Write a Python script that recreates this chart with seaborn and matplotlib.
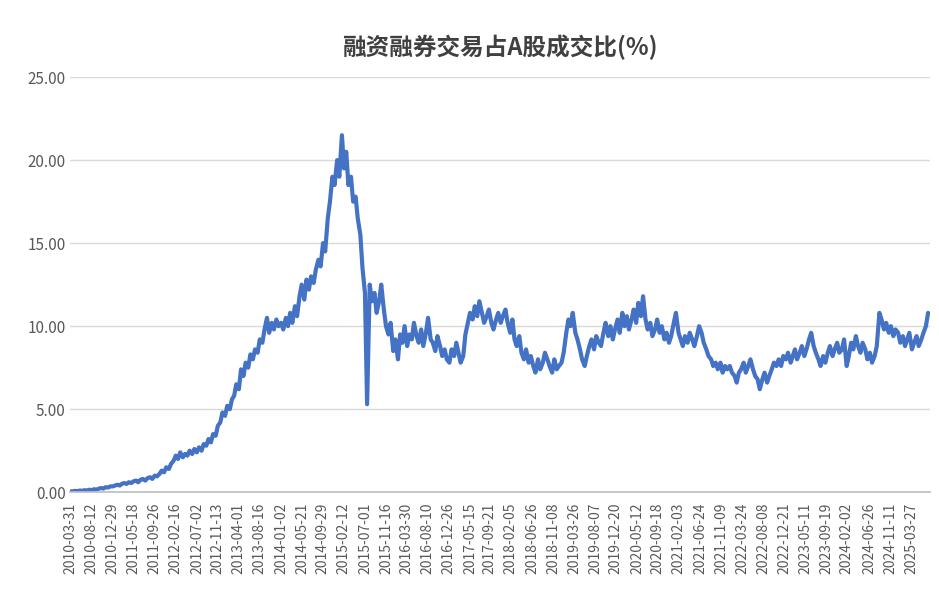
import numpy as np
import pandas as pd
import seaborn as sns
import matplotlib.pyplot as plt
import matplotlib.dates as mdates

# semimonthly readings of the ratio (%)
y2010 = [0.05,0.05,0.08,0.06,0.1,0.08,0.12,0.1,0.15,0.12,0.18,0.15,0.2,0.25,0.22,0.3,0.28,0.35]
y2011 = [0.35,0.4,0.45,0.4,0.5,0.55,0.5,0.6,0.55,0.65,0.7,0.6,0.75,0.8,0.7,0.85,0.9,0.8,1.0,0.95,1.1,1.3,1.2,1.5]
y2012 = [1.4,1.7,1.9,2.2,2.0,2.4,2.1,2.3,2.2,2.5,2.3,2.6,2.4,2.7,2.5,2.9,2.8,3.2,3.0,3.5,3.4,4.0,4.2,4.8]
y2013 = [4.6,5.2,5.0,5.6,5.8,6.5,6.2,7.4,7.0,7.8,7.5,8.3,8.0,8.6,8.4,9.2,9.0,9.8,10.5,9.6,10.2,9.8,10.4,10.0]
y2014 = [10.2,9.8,10.5,10.0,10.8,10.2,11.2,10.6,11.8,12.5,11.6,12.8,12.2,13.0,12.6,13.4,14.0,13.6,15.0,14.5,16.5,17.5,19.0,18.5]
y2015 = [20.0,19.0,21.5,19.5,20.5,18.5,19.0,17.5,17.8,16.5,15.5,13.5,12.0,5.3,12.5,11.5,12.0,10.8,11.5,12.5,11.0,10.0,9.5,10.2]
y2016 = [8.5,9.2,8.0,9.5,9.0,10.0,8.8,9.5,9.2,10.2,9.4,9.0,9.8,8.8,9.6,10.5,9.2,9.0,8.5,9.4,8.8,8.2,8.6,8.0]
y2017 = [7.8,8.6,8.2,9.0,8.4,7.8,8.2,9.5,10.2,10.8,10.4,11.2,10.6,11.5,10.8,10.2,10.6,11.0,10.2,9.8,10.4,10.8,10.2,10.6]
y2018 = [11.0,10.2,9.6,10.4,9.2,8.8,9.4,8.4,8.0,8.6,7.8,8.2,7.6,7.2,8.0,7.4,7.8,8.4,8.0,7.6,7.2,8.0,7.4,7.6]
y2019 = [7.8,8.4,9.6,10.4,10.0,10.8,9.6,9.2,8.6,8.0,7.6,8.2,8.8,9.2,8.6,9.4,9.0,8.8,9.6,10.2,9.4,10.0,9.2,9.8]
y2020 = [10.4,9.6,10.8,10.0,10.6,9.8,10.4,11.0,10.2,11.4,10.6,11.8,10.4,9.8,10.2,9.4,9.8,10.4,9.6,10.0,9.2,9.6,9.0,9.4]
y2021 = [10.2,10.8,9.6,9.2,8.8,9.4,9.0,9.6,9.2,8.8,9.4,10.0,9.6,9.0,8.6,8.2,8.0,7.6,7.8,7.4,7.8,7.2,7.6,7.4]
y2022 = [7.6,7.2,7.0,6.6,7.2,7.4,7.8,7.2,7.6,8.0,7.4,7.0,6.8,6.2,6.8,7.2,6.6,7.0,7.4,7.8,7.6,8.0,7.6,8.2]
y2023 = [8.0,8.4,7.8,8.2,8.6,8.0,8.4,8.8,8.2,8.6,9.2,9.6,8.8,8.4,8.0,7.6,8.2,7.8,8.4,8.8,8.2,8.6,9.0,8.4]
y2024 = [8.6,9.2,7.6,8.2,9.0,8.6,9.4,8.8,8.4,9.0,8.6,8.0,8.4,7.8,8.2,8.8,10.8,10.4,9.8,10.2,9.6,10.0,9.4,9.8]
y2025 = [9.6,9.0,9.4,8.8,9.2,9.6,8.6,9.0,9.4,8.8,9.2,9.6,10.0,10.8]

tick_labels = ["2010-03-31","2010-08-12","2010-12-29","2011-05-18","2011-09-26","2012-02-16",
               "2012-07-02","2012-11-13","2013-04-01","2013-08-16","2014-01-02","2014-05-21",
               "2014-09-29","2015-02-12","2015-07-01","2015-11-16","2016-03-30","2016-08-10",
               "2016-12-26","2017-05-15","2017-09-21","2018-02-05","2018-06-26","2018-11-08",
               "2019-03-26","2019-08-07","2019-12-20","2020-05-12","2020-09-18","2021-02-03",
               "2021-06-24","2021-11-09","2022-03-24","2022-08-08","2022-12-21","2023-05-11",
               "2023-09-19","2024-02-02","2024-06-26","2024-11-11","2025-03-27"]

values = (y2010 + y2011 + y2012 + y2013 + y2014 + y2015 + y2016 + y2017 + y2018
          + y2019 + y2020 + y2021 + y2022 + y2023 + y2024 + y2025)
dates = pd.date_range("2010-04-01", periods=len(values), freq="SMS")
df = pd.DataFrame({"date": dates, "ratio": values})

sns.set_theme(style="white")
plt.rcParams['font.family'] = ['Noto Sans CJK SC', 'DejaVu Sans']

fig, ax = plt.subplots(figsize=(9.39, 5.93), dpi=100)
sns.lineplot(data=df, x="date", y="ratio", color="#4472C4", linewidth=3, ax=ax)

ax.set_title("融资融券交易占A股成交比(%)", fontsize=17, fontweight="bold", color="#404040", pad=16)
ax.set_xlabel("")
ax.set_ylabel("")
ax.set_ylim(0, 25)
ax.set_yticks(np.arange(0, 26, 5))
ax.set_yticklabels([f"{v:.2f}" for v in np.arange(0, 26, 5)], color="#595959", fontsize=11)
ticks = pd.to_datetime(tick_labels)
ax.set_xticks(ticks)
ax.set_xticklabels(tick_labels, rotation=90, color="#595959", fontsize=10)
ax.set_xlim(pd.Timestamp("2010-03-31"), pd.Timestamp("2025-07-25"))
ax.yaxis.grid(True, color="#d9d9d9", linewidth=1)
for s in ["top", "right", "left"]:
    ax.spines[s].set_visible(False)
ax.spines["bottom"].set_color("#bfbfbf")
ax.tick_params(axis="x", length=4, color="#bfbfbf")
ax.tick_params(axis="y", length=0)

plt.subplots_adjust(left=0.075, right=0.99, top=0.87, bottom=0.17)
fig.savefig("out.png", dpi=100)
